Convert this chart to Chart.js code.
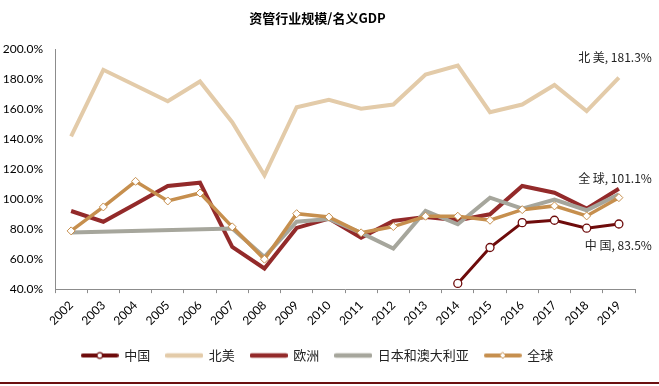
<!DOCTYPE html>
<html>
<head>
<meta charset="utf-8">
<script src="https://cdn.jsdelivr.net/npm/chart.js@4/dist/chart.umd.min.js"></script>
<style>
    html, body { margin: 0; padding: 0; background: #fff; }
    #wrap { width: 659px; height: 386px; }
</style>
</head>
<body>
<div id="wrap"><canvas id="grafico" width="659" height="386"></canvas></div>
<script>
// Dados
const anos = ['2002', '2003', '2004', '2005', '2006', '2007', '2008', '2009', '2010',
              '2011', '2012', '2013', '2014', '2015', '2016', '2017', '2018', '2019'];
const yTicks = [40, 60, 80, 100, 120, 140, 160, 180, 200];

const china = [null, null, null, null, null, null, null, null, null,
               null, null, null, 43.8, 67.8, 84.4, 86.0, 80.7, 83.5];
const northAmerica = [142.0, 186.5, 176.0, 165.5, 178.7, 151.5, 116.0, 161.5, 166.5,
                      160.5, 163.3, 183.3, 189.3, 158.2, 163.3, 176.4, 158.9, 181.3];
const europe = [92.2, 85.0, 96.9, 108.9, 111.1, 68.2, 53.8, 80.9, 87.1,
                74.4, 85.6, 88.2, 86.0, 90.0, 108.9, 104.4, 93.8, 107.1];
const japanAus = [77.8, null, null, null, null, 80.5, 61.5, 85.0, 86.9,
                  77.6, 67.1, 92.2, 83.3, 101.1, 93.8, 99.8, 92.7, 103.3];
const global = [78.9, 94.9, 112.0, 98.9, 104.2, 81.6, 60.0, 90.4, 88.2,
                77.6, 81.8, 88.7, 88.7, 86.0, 93.1, 95.6, 88.9, 101.1];

const cores = {
    china: '#6E0B0B',
    na: '#E3CBA9',
    eu: '#932A2A',
    ja: '#A6A69C',
    gl: '#C68F4E'
};

const fonteCJK = '"Noto Sans CJK SC", "Noto Sans", sans-serif';
const fonteNum = 'Lato, "Liberation Sans", sans-serif';

// Ícones da legenda (linha + marcador)
function makeIcon(color, width, marker) {
    const c = document.createElement('canvas');
    c.width = 38;
    c.height = 10;
    const g = c.getContext('2d');
    g.strokeStyle = color;
    g.lineWidth = width;
    g.lineCap = 'round';
    g.beginPath();
    g.moveTo(2, 5);
    g.lineTo(36, 5);
    g.stroke();
    if (marker === 'circle') {
        g.fillStyle = '#fff';
        g.lineWidth = 1.2;
        g.beginPath();
        g.arc(19, 5, 2.8, 0, Math.PI * 2);
        g.fill();
        g.stroke();
    } else if (marker === 'diamond') {
        g.fillStyle = '#fff';
        g.lineWidth = 1;
        g.beginPath();
        g.moveTo(19, 2);
        g.lineTo(22, 5);
        g.lineTo(19, 8);
        g.lineTo(16, 5);
        g.closePath();
        g.fill();
        g.stroke();
    }
    return c;
}

const icons = [
    makeIcon(cores.china, 4, 'circle'),
    makeIcon(cores.na, 4.5, null),
    makeIcon(cores.eu, 4.5, null),
    makeIcon(cores.ja, 4.5, null),
    makeIcon(cores.gl, 4, 'diamond')
];

// Rótulos no final das séries
const endLabels = {
    id: 'endLabels',
    afterDatasetsDraw(chart) {
        const ctx = chart.ctx;
        ctx.save();
        ctx.font = '12px ' + fonteCJK;
        ctx.fillStyle = '#222';
        ctx.textAlign = 'right';
        ctx.textBaseline = 'middle';
        chart.data.datasets.forEach((ds, i) => {
            if (!ds.endText) return;
            const meta = chart.getDatasetMeta(i);
            const pt = meta.data[meta.data.length - 1];
            ctx.fillText(ds.endText, pt.x + 33, pt.y + ds.endDy);
        });
        ctx.restore();
    },
    afterDraw(chart) {
        const ctx = chart.ctx;
        ctx.save();
        ctx.fillStyle = '#6B1010';
        ctx.fillRect(0, 382, chart.width, 2);
        ctx.restore();
    }
};

new Chart(document.getElementById('grafico'), {
    type: 'line',
    data: {
        labels: anos,
        datasets: [{
            label: '中国',
            data: china,
            borderColor: cores.china,
            backgroundColor: '#fff',
            borderWidth: 3,
            pointRadius: 4,
            pointBorderWidth: 1.3,
            pointStyle: 'circle',
            endText: '中 国, 83.5%',
            endDy: 21,
            order: 0
        }, {
            label: '北美',
            data: northAmerica,
            borderColor: cores.na,
            borderWidth: 4,
            pointRadius: 0,
            endText: '北 美, 181.3%',
            endDy: -20,
            order: 4
        }, {
            label: '欧洲',
            data: europe,
            borderColor: cores.eu,
            borderWidth: 4,
            pointRadius: 0,
            order: 3
        }, {
            label: '日本和澳大利亚',
            data: japanAus,
            borderColor: cores.ja,
            borderWidth: 4,
            pointRadius: 0,
            spanGaps: true,
            order: 2
        }, {
            label: '全球',
            data: global,
            borderColor: cores.gl,
            backgroundColor: '#fff',
            borderWidth: 3.5,
            pointRadius: 4,
            pointBorderWidth: 1,
            pointStyle: 'rectRot',
            endText: '全 球, 101.1%',
            endDy: -19,
            order: 1
        }]
    },
    options: {
        responsive: false,
        animation: false,
        tension: 0,
        layout: { padding: { left: 0, right: 24, top: 0, bottom: 14 } },
        plugins: {
            title: {
                display: true,
                text: '资管行业规模/名义GDP',
                color: '#000',
                font: { family: fonteCJK, size: 13, weight: 'bold' },
                padding: { top: 10, bottom: 24 }
            },
            legend: {
                position: 'bottom',
                labels: {
                    usePointStyle: true,
                    pointStyleWidth: 36,
                    padding: 16,
                    color: '#222',
                    font: { family: fonteCJK, size: 13 },
                    sort: (a, b) => a.datasetIndex - b.datasetIndex,
                    generateLabels: chart => Chart.defaults.plugins.legend.labels.generateLabels(chart)
                        .map(l => Object.assign(l, { pointStyle: icons[l.datasetIndex] }))
                }
            },
            tooltip: { enabled: false }
        },
        scales: {
            x: {
                offset: true,
                grid: {
                    offset: true,
                    drawOnChartArea: false,
                    drawTicks: true,
                    tickLength: 4,
                    color: '#8C8C8C'
                },
                border: { color: '#8C8C8C', width: 1 },
                ticks: {
                    maxRotation: 45,
                    minRotation: 45,
                    autoSkip: false,
                    padding: 5,
                    color: '#000',
                    font: { family: fonteNum, size: 12 }
                }
            },
            y: {
                min: yTicks[0],
                max: yTicks[yTicks.length - 1],
                afterBuildTicks: scale => {
                    scale.ticks = yTicks.map(v => ({ value: v }));
                },
                afterFit: scale => { scale.width = 55; },
                grid: { drawOnChartArea: false, drawTicks: false, color: '#8C8C8C' },
                border: { color: '#8C8C8C', width: 1 },
                ticks: {
                    padding: 12,
                    color: '#000',
                    font: { family: fonteNum, size: 12 },
                    callback: v => v.toFixed(1) + '%'
                }
            }
        }
    },
    plugins: [endLabels]
});
</script>
</body>
</html>
